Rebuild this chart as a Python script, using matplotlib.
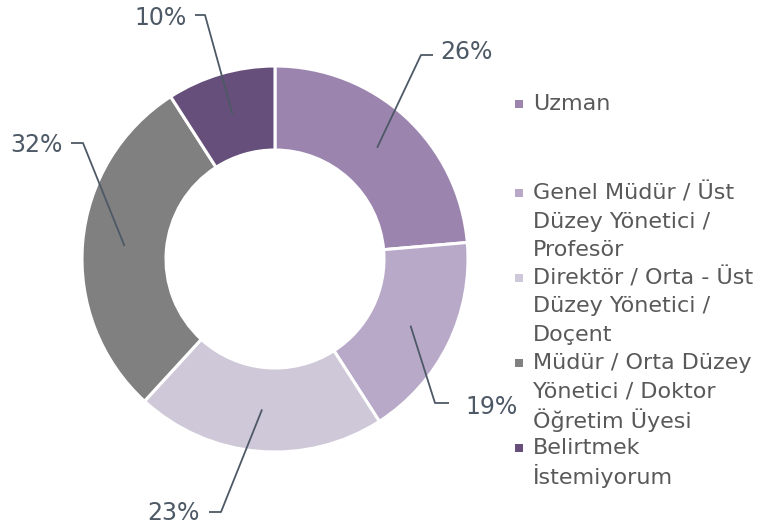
import numpy as np
import matplotlib.pyplot as plt
from matplotlib.patches import Rectangle

# data
categories = ['Uzman',
              'Genel Müdür / Üst\nDüzey Yönetici /\nProfesör',
              'Direktör / Orta - Üst\nDüzey Yönetici /\nDoçent',
              'Müdür / Orta Düzey\nYönetici / Doktor\nÖğretim Üyesi',
              'Belirtmek\nİstemiyorum']
values = [26, 19, 23, 32, 10]
labels = ['26%', '19%', '23%', '32%', '10%']
colors = ['#9B84AD', '#B8A9C9', '#CFC8D8', '#808080', '#664F7A']

W, H = 764, 528
fig = plt.figure(figsize=(W / 100, H / 100), dpi=100)
ax = fig.add_axes([0, 0, 1, 1])

cx, cy, r_out = 275, H - 259, 193
r_in = 109
ax.pie(values, colors=colors, startangle=90, counterclock=False,
       center=(cx, cy), radius=r_out, frame=True,
       wedgeprops=dict(width=r_out - r_in, edgecolor='white', linewidth=2.2))
ax.set_xlim(0, W)
ax.set_ylim(0, H)
ax.set_aspect('equal')
ax.axis('off')

# leader lines: elbow, end of horizontal, text position (image coords), alignment
leaders = [
    ((421, 55), (433, 55), (440, 52), 'left'),
    ((435, 403), (449, 403), (465, 407), 'left'),
    ((221, 512), (209, 512), (200, 513), 'right'),
    ((83, 143), (71, 143), (63, 145), 'right'),
    ((205, 15), (195, 15), (187, 18), 'right'),
]
line_col = '#4D5966'
total = sum(values)
cum = 0
for v, lab, (elb, end, txt, ha) in zip(values, labels, leaders):
    mid = 90 - (cum + v / 2) / total * 360
    cum += v
    rm = (r_out + r_in) / 2
    px = cx + rm * np.cos(np.radians(mid))
    py = cy + rm * np.sin(np.radians(mid))
    ax.plot([px, elb[0], end[0]], [py, H - elb[1], H - end[1]],
            color=line_col, lw=1.3, solid_capstyle='butt')
    ax.text(txt[0], H - txt[1], lab, ha=ha, va='center', fontsize=17,
            color=line_col)

# legend
leg_y = [104, 193, 278, 363, 448]
line_h = 28.5
for cat, col, y in zip(categories, colors, leg_y):
    ax.add_patch(Rectangle((515, H - y - 4), 8, 8, facecolor=col,
                           edgecolor='none'))
    for i, ln in enumerate(cat.split('\n')):
        ax.text(533, H - (y + i * line_h), ln, ha='left', va='center',
                fontsize=16, color='#595959')

fig.savefig('out.png', dpi=100)
